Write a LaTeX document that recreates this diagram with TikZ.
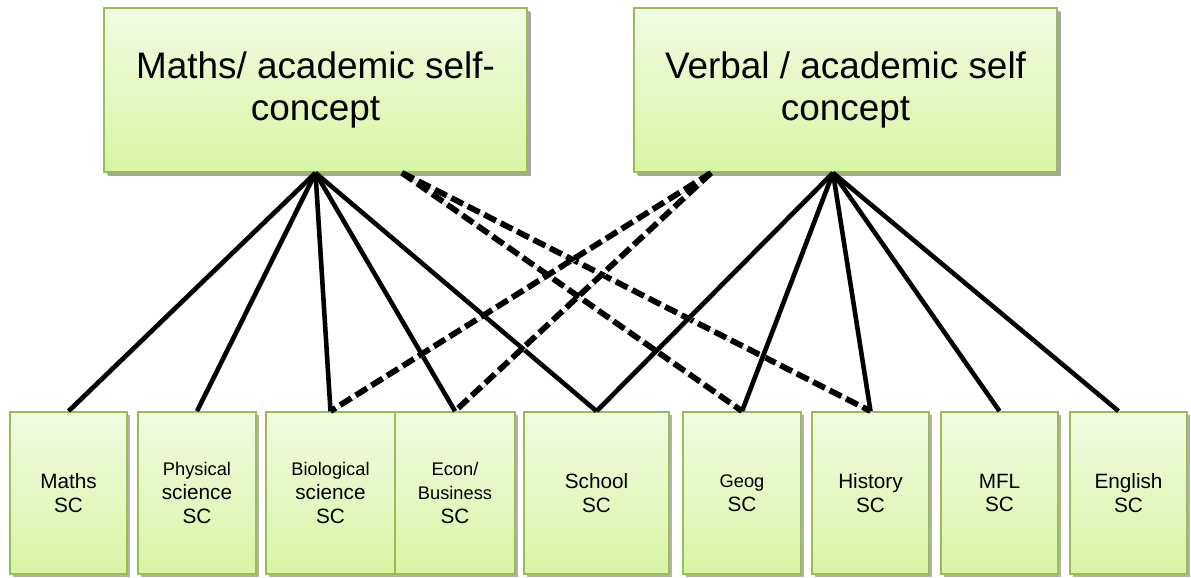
\documentclass[tikz,border=0pt]{standalone}
\usepackage{fontspec}
\setmainfont{Liberation Sans}
\usepackage{tikz}
\usetikzlibrary{shadows,calc}
\definecolor{boxtop}{RGB}{242,251,226}
\definecolor{boxbottom}{RGB}{215,245,164}
\definecolor{boxedge}{RGB}{155,187,89}
\newcommand{\smallword}[1]{{\fontsize{10.4}{13.2}\selectfont #1}}

\begin{document}
\begin{tikzpicture}[
    scbox/.style={draw=boxedge, line width=1pt, rectangle, top color=boxtop, bottom color=boxbottom,
      minimum height=3.24cm, align=center, font=\fontsize{11.8}{13.4}\selectfont,
      drop shadow={shadow xshift=1.5pt, shadow yshift=-1.5pt, fill=gray!60, opacity=1}},
    topbox/.style={scbox, minimum width=8.46cm, minimum height=3.28cm,
      font=\fontsize{21}{23.5}\selectfont,
      drop shadow={shadow xshift=2.5pt, shadow yshift=-2.5pt, fill=gray!70, opacity=1}},
    link/.style={line width=2.6pt, line cap=butt,
      preaction={draw=gray!45, transform canvas={shift={(1pt,-1pt)}}}},
    cross/.style={link, line width=3.3pt, dash pattern=on 7.5pt off 3pt}
  ]
    \useasboundingbox (0,0) rectangle (23.82,11.54);
    % Global self-concepts
    \node[topbox] (mathsASC) at (6.31, 9.74) {Maths/ academic self-\\concept};
    \node[topbox] (verbalASC) at (16.91, 9.74) {Verbal / academic self\\concept};
    % Subject self-concepts
    \node[scbox, minimum width=2.34cm] (mathsSC) at (1.37, 1.68) {Maths\\SC};
    \node[scbox, minimum width=2.36cm] (physSC) at (3.94, 1.68) {\smallword{Physical}\\science\\SC};
    \node[scbox, minimum width=2.58cm] (bioSC) at (6.61, 1.68) {\smallword{Biological}\\science\\SC};
    \node[scbox, minimum width=2.40cm] (econSC) at (9.10, 1.68) {\smallword{Econ/}\\\smallword{Business}\\SC};
    \node[scbox, minimum width=2.90cm] (schoolSC) at (11.93, 1.68) {School\\SC};
    \node[scbox, minimum width=2.36cm] (geogSC) at (14.84, 1.68) {\smallword{Geog}\\SC};
    \node[scbox, minimum width=2.34cm] (histSC) at (17.41, 1.68) {History\\SC};
    \node[scbox, minimum width=2.34cm] (mflSC) at (19.99, 1.68) {MFL\\SC};
    \node[scbox, minimum width=2.34cm] (engSC) at (22.57, 1.68) {English\\SC};
    % Hubs under the top boxes
    \coordinate (mhub) at (mathsASC.south);
    \coordinate (vhub) at ($(verbalASC.south)+(-0.25,0)$);
    \coordinate (mdash) at ($(mathsASC.south)+(1.73,0)$);
    \coordinate (vdash) at ($(verbalASC.south)+(-2.69,0)$);
    % Maths side
    \foreach \sc in {mathsSC, physSC, bioSC, econSC, schoolSC}
      \draw[link] (mhub) -- (\sc.north);
    \draw[cross] (mdash) -- (geogSC.north);
    \draw[cross] (mdash) -- (histSC.north);
    % Verbal side
    \draw[cross] (vdash) -- (bioSC.north);
    \draw[cross] (vdash) -- (econSC.north);
    \foreach \sc in {schoolSC, geogSC, histSC, mflSC}
      \draw[link] (vhub) -- (\sc.north);
    \draw[link] (vhub) -- ($(engSC.north)+(-0.2,0)$);
  \end{tikzpicture}
\end{document}
